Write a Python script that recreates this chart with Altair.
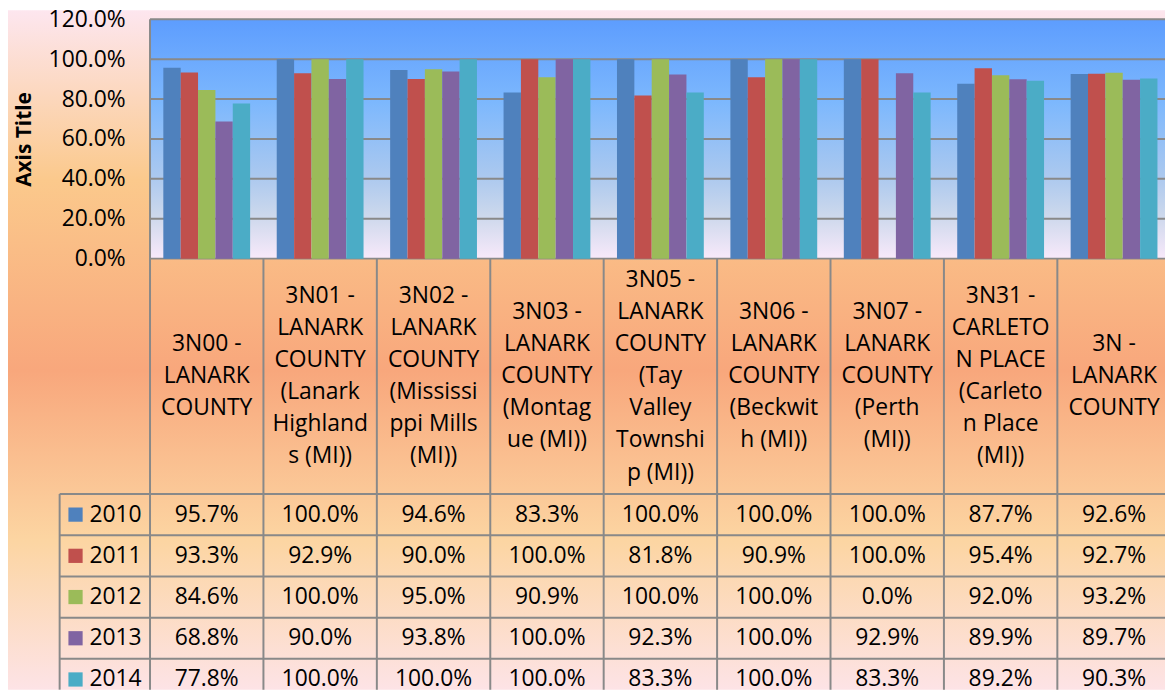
import altair as alt
import pandas as pd

# ---------------- data ----------------
codes = ["3N00", "3N01", "3N02", "3N03", "3N05", "3N06", "3N07", "3N31", "3N"]
labels = [
    "3N00 -\nLANARK\nCOUNTY",
    "3N01 -\nLANARK\nCOUNTY\n(Lanark\nHighland\ns (MI))",
    "3N02 -\nLANARK\nCOUNTY\n(Mississi\nppi Mills\n(MI))",
    "3N03 -\nLANARK\nCOUNTY\n(Montag\nue (MI))",
    "3N05 -\nLANARK\nCOUNTY\n(Tay\nValley\nTownshi\np (MI))",
    "3N06 -\nLANARK\nCOUNTY\n(Beckwit\nh (MI))",
    "3N07 -\nLANARK\nCOUNTY\n(Perth\n(MI))",
    "3N31 -\nCARLETO\nN PLACE\n(Carleto\nn Place\n(MI))",
    "3N -\nLANARK\nCOUNTY",
]
years = ["2010", "2011", "2012", "2013", "2014"]
v2010 = [0.957, 1.000, 0.946, 0.833, 1.000, 1.000, 1.000, 0.877, 0.926]
v2011 = [0.933, 0.929, 0.900, 1.000, 0.818, 0.909, 1.000, 0.954, 0.927]
v2012 = [0.846, 1.000, 0.950, 0.909, 1.000, 1.000, 0.000, 0.920, 0.932]
v2013 = [0.688, 0.900, 0.938, 1.000, 0.923, 1.000, 0.929, 0.899, 0.897]
v2014 = [0.778, 1.000, 1.000, 1.000, 0.833, 1.000, 0.833, 0.892, 0.903]
series = [v2010, v2011, v2012, v2013, v2014]
year_colors = ["#4F81BD", "#C0504D", "#9BBB59", "#8064A2", "#4BACC6"]
y_ticks = [0.0, 0.2, 0.4, 0.6, 0.8, 1.0, 1.2]

rows = []
for y, vals in zip(years, series):
    for c, v in zip(codes, vals):
        rows.append({"code": c, "year": y, "value": v, "lbl": f"{v*100:.1f}%"})
df = pd.DataFrame(rows)
df_cat = pd.DataFrame({"code": codes, "lines": labels,
                       "n": [s.count("\n") + 1 for s in labels]})
df_years = pd.DataFrame({"year": years})
df_grid = pd.DataFrame({"v": y_ticks})
df_cols = pd.DataFrame({"code": codes[1:]})
one = pd.DataFrame({"k": [0]})

# ---------------- layout ----------------
W, H = 1022, 675
PAD_L, PAD_T = 143, 9
PLOT_H = 241
COL_W = 114.2
ROW_TOP, ROW_H = 478, 41.5
LEG_L = -91
FONT = "Open Sans"
FS = 23
LH = 32.3
GRID = "#898989"

xs = alt.Scale(domain=codes, range=[0, COL_W * len(codes)], paddingInner=0, paddingOuter=0)
per_unit = PLOT_H / 1.2
ys = alt.Scale(domain=[1.2 - H / per_unit, 1.2], nice=False, zero=False)
ty = alt.Scale(domain=years, range=[ROW_TOP, ROW_TOP + ROW_H * len(years)], paddingInner=0, paddingOuter=0)
cs = alt.Scale(domain=years, range=year_colors)

yaxis = alt.Axis(values=y_ticks, format=".1%", grid=False, ticks=False, domain=False,
                 labelPadding=25, labelFont=FONT, labelFontSize=FS, labelColor="black",
                 labelFlush=False, labelOverlap=False, zindex=1,
                 title="Axis Title", titleFont=FONT, titleFontSize=21, titleFontWeight="bold",
                 titleColor="black", titleAngle=270, titleX=-126, titleY=PLOT_H / 2,
                 titleAlign="center", titleBaseline="middle")

bg = alt.Chart(one).mark_rect(fill=alt.LinearGradient(
    gradient="linear", x1=0, x2=0, y1=0, y2=1,
    stops=[alt.GradientStop(offset=0, color="#fde6ef"),
           alt.GradientStop(offset=0.25, color="#fbc98c"),
           alt.GradientStop(offset=0.53, color="#f8a77c"),
           alt.GradientStop(offset=0.78, color="#fcd5a2"),
           alt.GradientStop(offset=1, color="#fde3e6")])).encode(
    x=alt.value(-PAD_L), x2=alt.value(W), y=alt.value(-PAD_T), y2=alt.value(H))

plot_bg = alt.Chart(one).mark_rect(fill=alt.LinearGradient(
    gradient="linear", x1=0, x2=0, y1=0, y2=1,
    stops=[alt.GradientStop(offset=0, color="#5d9dfe"),
           alt.GradientStop(offset=0.35, color="#7db8fd"),
           alt.GradientStop(offset=0.65, color="#aac8ef"),
           alt.GradientStop(offset=0.82, color="#ccd8ec"),
           alt.GradientStop(offset=1, color="#f8e9fa")])).encode(
    x=alt.value(0), x2=alt.value(W), y=alt.value(0), y2=alt.value(PLOT_H))

grid = alt.Chart(df_grid).mark_rule(color=GRID, strokeWidth=2).encode(
    y=alt.Y("v:Q", scale=ys, axis=yaxis), x=alt.value(0), x2=alt.value(W))

bars = alt.Chart(df).mark_bar().encode(
    x=alt.X("code:N", scale=xs, axis=None, sort=codes),
    xOffset=alt.XOffset("year:N", scale=alt.Scale(domain=years, paddingInner=0, paddingOuter=0.766)),
    y=alt.Y("value:Q", scale=ys, axis=yaxis),
    y2=alt.datum(0),
    color=alt.Color("year:N", scale=cs, legend=None),
)

bar_group = alt.layer(bg, plot_bg, grid, bars)

# ---------------- data table ----------------
left_border = alt.Chart(one).mark_rule(color=GRID, strokeWidth=2).encode(
    x=alt.value(0), y=alt.value(0), y2=alt.value(H))
leg_border = alt.Chart(one).mark_rule(color=GRID, strokeWidth=2).encode(
    x=alt.value(LEG_L), y=alt.value(ROW_TOP), y2=alt.value(H))
col_lines = alt.Chart(df_cols).mark_rule(color=GRID, strokeWidth=2).encode(
    x=alt.X("code:N", scale=xs, axis=None, bandPosition=0),
    y=alt.value(PLOT_H), y2=alt.value(H))
row_lines = alt.Chart(df_years).mark_rule(color=GRID, strokeWidth=2).encode(
    y=alt.Y("year:N", scale=ty, axis=None, bandPosition=0),
    x=alt.value(LEG_L), x2=alt.value(W))

header_layers = []
for n in sorted(df_cat["n"].unique()):
    header_layers.append(
        alt.Chart(df_cat).transform_filter(alt.datum.n == int(n)).mark_text(
            font=FONT, fontSize=FS, lineBreak="\n", lineHeight=LH,
            baseline="middle", align="center", color="black",
            dy=-(int(n) - 1) * LH / 2).encode(
            x=alt.X("code:N", scale=xs, axis=None),
            y=alt.value((PLOT_H + ROW_TOP) / 2),
            text="lines:N"))

cells = alt.Chart(df).mark_text(font=FONT, fontSize=FS, baseline="middle", align="center",
                                color="black").encode(
    x=alt.X("code:N", scale=xs, axis=None),
    y=alt.Y("year:N", scale=ty, axis=None),
    text="lbl:N")
keys = alt.Chart(df_years).mark_square(size=205, opacity=1).encode(
    x=alt.value(-75),
    y=alt.Y("year:N", scale=ty, axis=None),
    color=alt.Color("year:N", scale=cs, legend=None))
key_text = alt.Chart(df_years).mark_text(font=FONT, fontSize=FS, baseline="middle", align="left",
                                         color="black").encode(
    x=alt.value(-61),
    y=alt.Y("year:N", scale=ty, axis=None),
    text="year:N")

table_group = alt.layer(left_border, leg_border, col_lines, row_lines, *header_layers,
                        cells, keys, key_text)

chart = alt.layer(bar_group, table_group).resolve_scale(y="independent").properties(
    width=W, height=H,
    padding={"left": PAD_L, "top": PAD_T, "right": 0, "bottom": 0},
    autosize=alt.AutoSizeParams(type="none"),
).configure_view(stroke=None)

chart.save("out.html", embed_options={"renderer": "svg", "actions": False})
